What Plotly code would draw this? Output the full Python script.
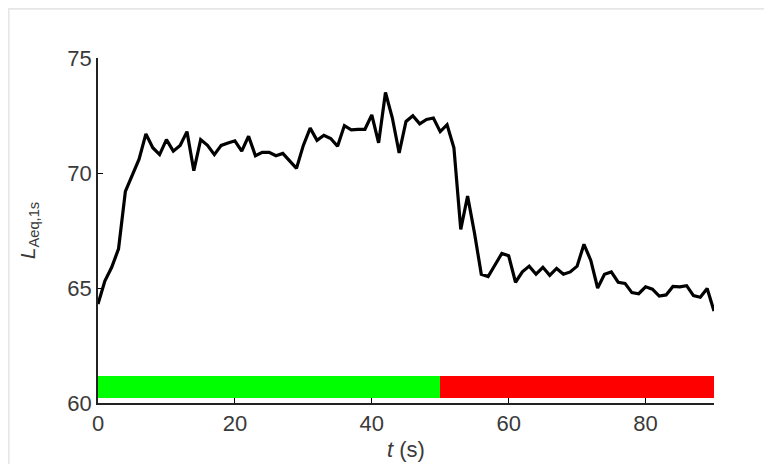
import plotly.graph_objects as go

t = list(range(0, 91))
laeq = [64.3, 65.3, 65.9, 66.7, 69.2, 69.9, 70.6, 71.7, 71.1, 70.8,
        71.45, 70.95, 71.2, 71.8, 70.1, 71.45, 71.2, 70.8, 71.2, 71.3,
        71.4, 70.95, 71.6, 70.75, 70.9, 70.9, 70.75, 70.85, 70.5, 70.2,
        71.2, 71.95, 71.42, 71.64, 71.5, 71.16, 72.06, 71.88, 71.9, 71.9,
        72.53, 71.31, 73.5, 72.4, 70.87, 72.24, 72.49, 72.14, 72.33, 72.39,
        71.8, 72.1, 71.1, 67.55, 69.0, 67.4, 65.6, 65.5, 66.0, 66.5,
        66.4, 65.25, 65.7, 65.95, 65.6, 65.9, 65.55, 65.85, 65.6, 65.7,
        65.95, 66.9, 66.2, 65.0, 65.6, 65.7, 65.25, 65.2, 64.8, 64.75,
        65.05, 64.95, 64.65, 64.7, 65.07, 65.05, 65.1, 64.67, 64.6, 64.98,
        64.0]

phase_start = [0, 50]
phase_end = [50, 90]
phase_colors = ["#00ff00", "#ff0000"]
bar_low = 60.23
bar_high = 61.19

xticks = [0, 20, 40, 60, 80]
yticks = [60, 65, 70, 75]

fig = go.Figure()

for s, e, c in zip(phase_start, phase_end, phase_colors):
    fig.add_trace(go.Bar(
        x=[e - s], base=[s], y=[(bar_low + bar_high) / 2], width=[bar_high - bar_low],
        orientation="h", marker=dict(color=c, line=dict(width=0)),
        showlegend=False, hoverinfo="skip"))

fig.add_trace(go.Scatter(x=t, y=laeq, mode="lines",
                         line=dict(color="black", width=3.2),
                         showlegend=False))

# gray frame bands along the top and left page edges
gray = "#e6e6e6"
fig.add_shape(type="rect", xref="paper", yref="paper",
              x0=-0.3, x1=1.3, y0=394.5 / 346, y1=1.35,
              fillcolor=gray, line=dict(width=0), layer="below")
fig.add_shape(type="rect", xref="paper", yref="paper",
              x0=-0.3, x1=(1 - 89.5) / 616.5, y0=-0.4, y1=1.35,
              fillcolor=gray, line=dict(width=0), layer="below")

font = dict(family="Liberation Sans, Arial, sans-serif", size=22, color="#3a3a3a")

fig.update_layout(
    width=772, height=464,
    margin=dict(l=89.5, r=66, t=49.5, b=68.5),
    paper_bgcolor="white", plot_bgcolor="white",
    bargap=0, barmode="overlay",
    font=font,
    xaxis=dict(range=[0, 90], tickvals=xticks, ticks="inside", ticklen=5,
               tickcolor="black", showline=True, linecolor="#222222", linewidth=1.5,
               showgrid=False, zeroline=False, tickfont=font,
               title=dict(text="<i>t</i> (s)", font=font, standoff=6)),
    yaxis=dict(range=[60, 75], tickvals=yticks, ticks="inside", ticklen=5,
               tickcolor="black", showline=True, linecolor="#222222", linewidth=1.5,
               showgrid=False, zeroline=False, tickfont=font,
               title=dict(text="<i>L</i><sub>Aeq,1s</sub>",
                          font=dict(family=font["family"], size=21, color="#3a3a3a"),
                          standoff=26)),
)

fig.write_html("out.html")
